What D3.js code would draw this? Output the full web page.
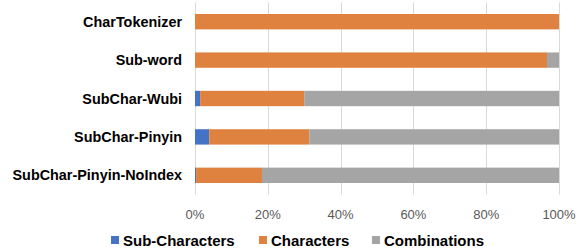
<!DOCTYPE html>
<html>
<head>
<meta charset="utf-8">
<script src="https://cdn.jsdelivr.net/npm/d3@7"></script>
<style>
body { margin: 0; background: #fff; }
#chart svg { display: block; font-family: "Liberation Sans", Arial, sans-serif; }
</style>
</head>
<body>
<div id="chart"></div>
<script>
const categories = ["CharTokenizer", "Sub-word", "SubChar-Wubi", "SubChar-Pinyin", "SubChar-Pinyin-NoIndex"]
const seriesNames = ["Sub-Characters", "Characters", "Combinations"]
const subCharacters = [0, 0, 1.4, 3.9, 0.3]
const characters = [100, 96.7, 28.6, 27.5, 18.1]
const combinations = [0, 3.3, 70.0, 68.6, 81.6]
const tickValues = [0, 20, 40, 60, 80, 100]
const colors = ["#4472C4", "#E0823F", "#A5A5A5"]

const width = 583
const height = 250
const margin = { top: 2.5, left: 195, right: 24, bottom: 55.5 }
const innerWidth = width - margin.left - margin.right
const innerHeight = height - margin.top - margin.bottom

const rows = categories.map((c, i) => ({
  cat: c,
  "Sub-Characters": subCharacters[i],
  "Characters": characters[i],
  "Combinations": combinations[i]
}))
const stacked = d3.stack().keys(seriesNames)(rows)

const svg = d3.select('#chart').append('svg')
  .attr('width', width)
  .attr('height', height)

const g = svg.append('g')
  .attr('transform', `translate(${margin.left},${margin.top})`)

const xScale = d3.scaleLinear().domain([0, 100]).range([0, innerWidth])
const yScale = d3.scaleBand().domain(categories).range([0, innerHeight]).paddingInner(0.6).paddingOuter(0.3)

// gridlines
g.selectAll('line.grid')
  .data(tickValues)
  .enter()
  .append('line')
  .attr('class', 'grid')
  .attr('x1', d => Math.round(xScale(d)) + 0.5)
  .attr('x2', d => Math.round(xScale(d)) + 0.5)
  .attr('y1', 0)
  .attr('y2', innerHeight)
  .attr('stroke', '#d9d9d9')

// tick labels
g.selectAll('text.tick')
  .data(tickValues)
  .enter()
  .append('text')
  .attr('class', 'tick')
  .text(d => d + '%')
  .attr('x', d => xScale(d))
  .attr('y', innerHeight + 24)
  .attr('text-anchor', 'middle')
  .attr('fill', '#595959')
  .attr('font-size', 13)

// bars
g.selectAll('g.series')
  .data(stacked)
  .enter()
  .append('g')
  .attr('class', 'series')
  .attr('fill', (d, i) => colors[i])
  .selectAll('rect')
  .data(d => d)
  .enter()
  .append('rect')
  .attr('x', d => xScale(d[0]))
  .attr('y', d => yScale(d.data.cat))
  .attr('width', d => xScale(d[1]) - xScale(d[0]))
  .attr('height', yScale.bandwidth())

// category labels
g.selectAll('text.cat')
  .data(categories)
  .enter()
  .append('text')
  .attr('class', 'cat')
  .text(d => d)
  .attr('x', -13)
  .attr('y', d => yScale(d) + yScale.bandwidth() / 2 + 5)
  .attr('text-anchor', 'end')
  .attr('fill', '#000')
  .attr('font-size', 14.4)
  .attr('font-weight', 'bold')

// legend
const legendX = [111, 259, 372]
const legend = svg.append('g').attr('transform', 'translate(0,240)')
const item = legend.selectAll('g')
  .data(seriesNames)
  .enter()
  .append('g')
  .attr('transform', (d, i) => `translate(${legendX[i]},0)`)
item.append('rect')
  .attr('x', 0).attr('y', -4)
  .attr('width', 8).attr('height', 8)
  .attr('fill', (d, i) => colors[i])
item.append('text')
  .text(d => d)
  .attr('x', 12)
  .attr('y', 5.5)
  .attr('font-size', 15)
  .attr('font-weight', 'bold')
  .attr('fill', '#000')
</script>
</body>
</html>
